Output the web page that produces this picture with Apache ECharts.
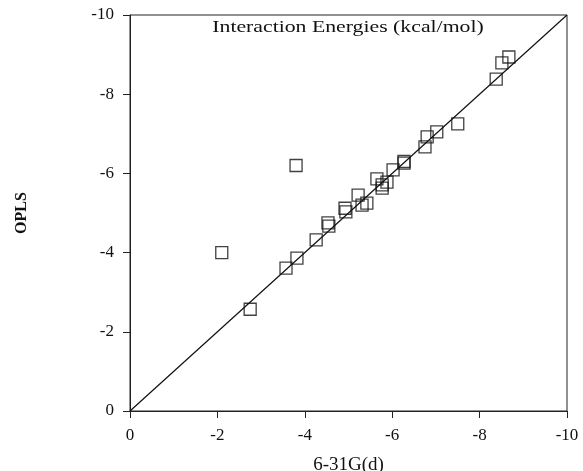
<!DOCTYPE html>
<html><head><meta charset="utf-8">
<script src="https://cdn.jsdelivr.net/npm/echarts@6/dist/echarts.min.js"></script>
<style>html,body{margin:0;padding:0;background:#fff}#c{width:583px;height:471px}</style>
</head><body><div id="c"></div>
<script>
const xTicks = [0, -2, -4, -6, -8, -10];
const yTicks = [0, -2, -4, -6, -8, -10];
const ab631 = [-2.1, -2.75, -3.8, -3.57, -3.82, -4.26, -4.53, -4.55, -4.92, -4.94, -5.22, -5.31, -5.42, -5.65, -5.77, -5.77, -5.88, -6.02, -6.27, -6.27, -6.75, -6.8, -7.02, -7.5, -8.38, -8.51, -8.67];
const opls = [-4.0, -2.57, -6.2, -3.61, -3.86, -4.32, -4.75, -4.67, -5.12, -5.03, -5.45, -5.2, -5.25, -5.86, -5.71, -5.63, -5.78, -6.09, -6.26, -6.3, -6.67, -6.92, -7.05, -7.25, -8.38, -8.79, -8.94];
const diagonal = [[0, 0], [-10, -10]];
const title = 'Interaction Energies (kcal/mol)';

const pts = ab631.map((v, i) => [v, opls[i]]);
const font = 'Liberation Serif';
const chart = echarts.init(document.getElementById('c'), null, {renderer: 'canvas'});
const axisCommon = {
  type: 'value', min: -10, max: 0, interval: 2, inverse: true,
  axisLine: {show: true, onZero: false, lineStyle: {color: '#222', width: 1}},
  axisTick: {show: true, inside: false, length: 7, lineStyle: {color: '#222'}},
  splitLine: {show: false},
  axisLabel: {color: '#111', fontFamily: font, fontSize: 17}
};
chart.setOption({
  animation: false,
  grid: {left: 130, right: 16, top: 15, bottom: 60, show: true, borderColor: '#222', borderWidth: 1,
         containLabel: false, outerBoundsMode: 'none'},
  graphic: [{type: 'text', x: 348, y: 19, scaleX: 1.28,
    style: {text: title, fontFamily: font, fontSize: 17, fill: '#111', textAlign: 'center', textVerticalAlign: 'top'}}],
  xAxis: Object.assign({}, axisCommon, {
    name: '6-31G(d)', nameLocation: 'middle', nameGap: 45,
    nameTextStyle: {fontFamily: font, fontSize: 19, color: '#111'},
    axisLabel: Object.assign({}, axisCommon.axisLabel, {margin: 16})
  }),
  yAxis: Object.assign({}, axisCommon, {
    name: 'OPLS', nameLocation: 'middle', nameGap: 100,
    nameTextStyle: {fontFamily: font, fontSize: 16, fontWeight: 'bold', color: '#111'},
    axisLabel: Object.assign({}, axisCommon.axisLabel, {margin: 16})
  }),
  series: [
    {type: 'line', data: diagonal, symbol: 'none', lineStyle: {color: '#111', width: 1.2}, z: 1},
    {type: 'scatter', data: pts, symbol: 'rect', symbolSize: 12,
     itemStyle: {color: 'rgba(0,0,0,0)', borderColor: '#111', borderWidth: 1.3}, z: 2}
  ]
});
</script></body></html>
